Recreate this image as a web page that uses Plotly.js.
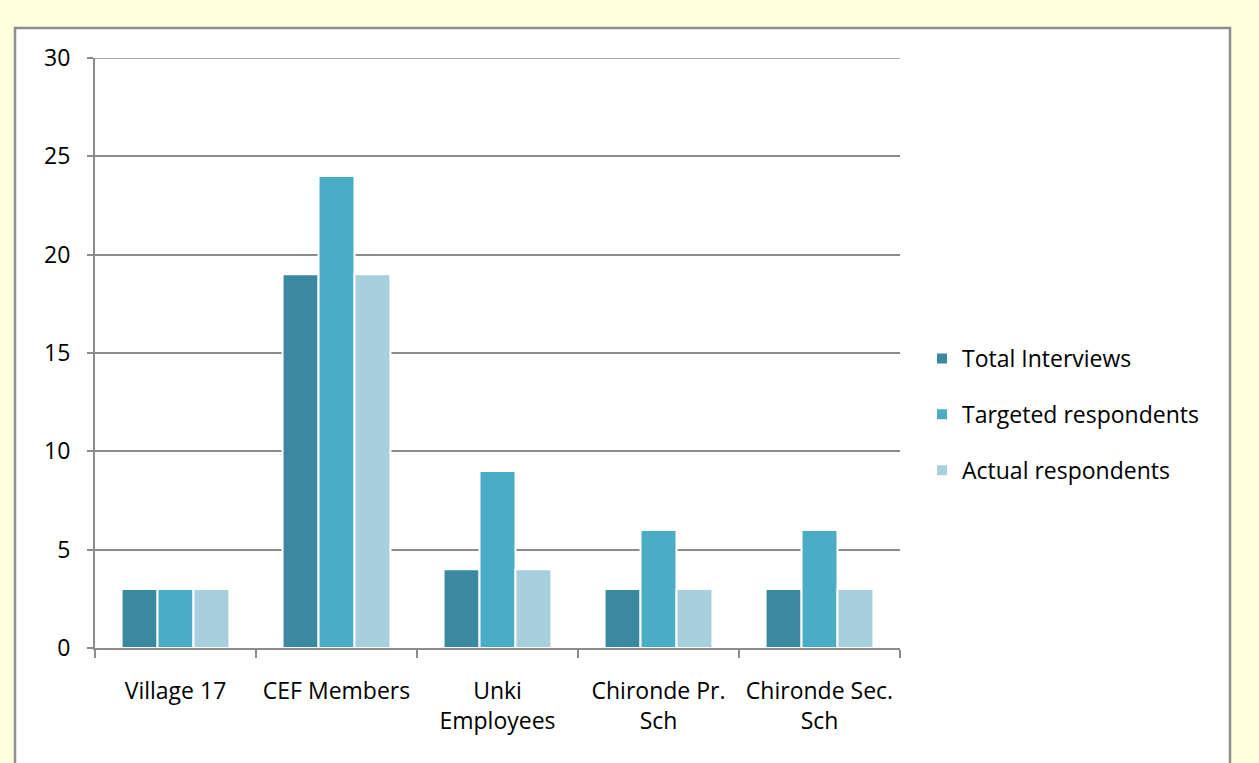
<!DOCTYPE html>
<html>
<head>
<meta charset="utf-8">
<script src="https://cdn.plot.ly/plotly-3.0.1.min.js"></script>
<style>html,body{margin:0;padding:0;background:#FFFEDD;}#chart{width:1259px;height:763px;}</style>
</head>
<body>
<div id="chart"></div>
<script>
var categories = ["Village 17", "CEF Members", "Unki<br>Employees", "Chironde Pr.<br>Sch", "Chironde Sec.<br>Sch"];
var totalInterviews = [3, 19, 4, 3, 3];
var targetedRespondents = [3, 24, 9, 6, 6];
var actualRespondents = [3, 19, 4, 3, 3];
var seriesNames = ["Total Interviews", "Targeted respondents", "Actual respondents"];
var yTicks = [0, 5, 10, 15, 20, 25, 30];

var colors = ["#3A89A0", "#4BACC6", "#A8CFDD"];
var allSeries = [totalInterviews, targetedRespondents, actualRespondents];
var traces = allSeries.map(function (vals, i) {
  return {
    type: "bar",
    name: seriesNames[i],
    x: categories,
    y: vals,
    legendgroup: "g" + i,
    marker: {color: colors[i], line: {color: "#FFFFFF", width: 2}},
    hoverinfo: "x+y+name"
  };
});

var fontFam = "'Open Sans', 'Noto Sans', sans-serif";
var fs = 23;
var L = 95, R = 900, T = 58, B = 648;
function px(x) { return (x - L) / (R - L); }
function py(y) { return (B - y) / (B - T); }

var layout = {
  width: 1259, height: 763,
  margin: {l: L, r: 1259 - R, t: T, b: 763 - B, pad: 0},
  paper_bgcolor: "#FFFEDD",
  plot_bgcolor: "rgba(0,0,0,0)",
  barmode: "group",
  bargap: 0.33,
  bargroupgap: 0,
  font: {family: fontFam, size: fs, color: "#000000"},
  showlegend: true,
  legend: {
    x: px(922), y: py(337), xanchor: "left", yanchor: "top",
    bgcolor: "rgba(0,0,0,0)",
    font: {family: fontFam, size: fs, color: "#000000"},
    tracegroupgap: 23,
    itemwidth: 30,
    traceorder: "grouped"
  },
  xaxis: {
    type: "category",
    showline: true, linecolor: "#8C8C8C", linewidth: 2,
    ticks: "outside", tickson: "boundaries", ticklen: 8, tickcolor: "#8C8C8C", tickwidth: 2,
    ticklabelstandoff: 21,
    showgrid: false, zeroline: false,
    tickfont: {family: fontFam, size: fs, color: "#000000"},
    automargin: false
  },
  yaxis: {
    range: [0, 30],
    tickvals: yTicks,
    showline: true, linecolor: "#8C8C8C", linewidth: 2,
    ticks: "outside", ticklen: 6, tickcolor: "#8C8C8C", tickwidth: 2,
    ticklabelstandoff: 12,
    showgrid: true, gridcolor: "#8C8C8C", gridwidth: 1.5,
    zeroline: false,
    tickfont: {family: fontFam, size: fs, color: "#000000"},
    automargin: false
  },
  shapes: [{
    type: "rect", xref: "paper", yref: "paper", layer: "below",
    x0: px(15), x1: px(1230), y0: py(790), y1: py(28),
    fillcolor: "#FFFFFF",
    line: {color: "#8E8E8E", width: 2.5}
  }, {
    type: "line", xref: "paper", yref: "y", layer: "below",
    x0: 0, x1: 1, y0: yTicks[yTicks.length - 1], y1: yTicks[yTicks.length - 1],
    line: {color: "#8C8C8C", width: 1.5}
  }]
};

Plotly.newPlot("chart", traces, layout, {displayModeBar: false, responsive: false});
</script>
</body>
</html>
